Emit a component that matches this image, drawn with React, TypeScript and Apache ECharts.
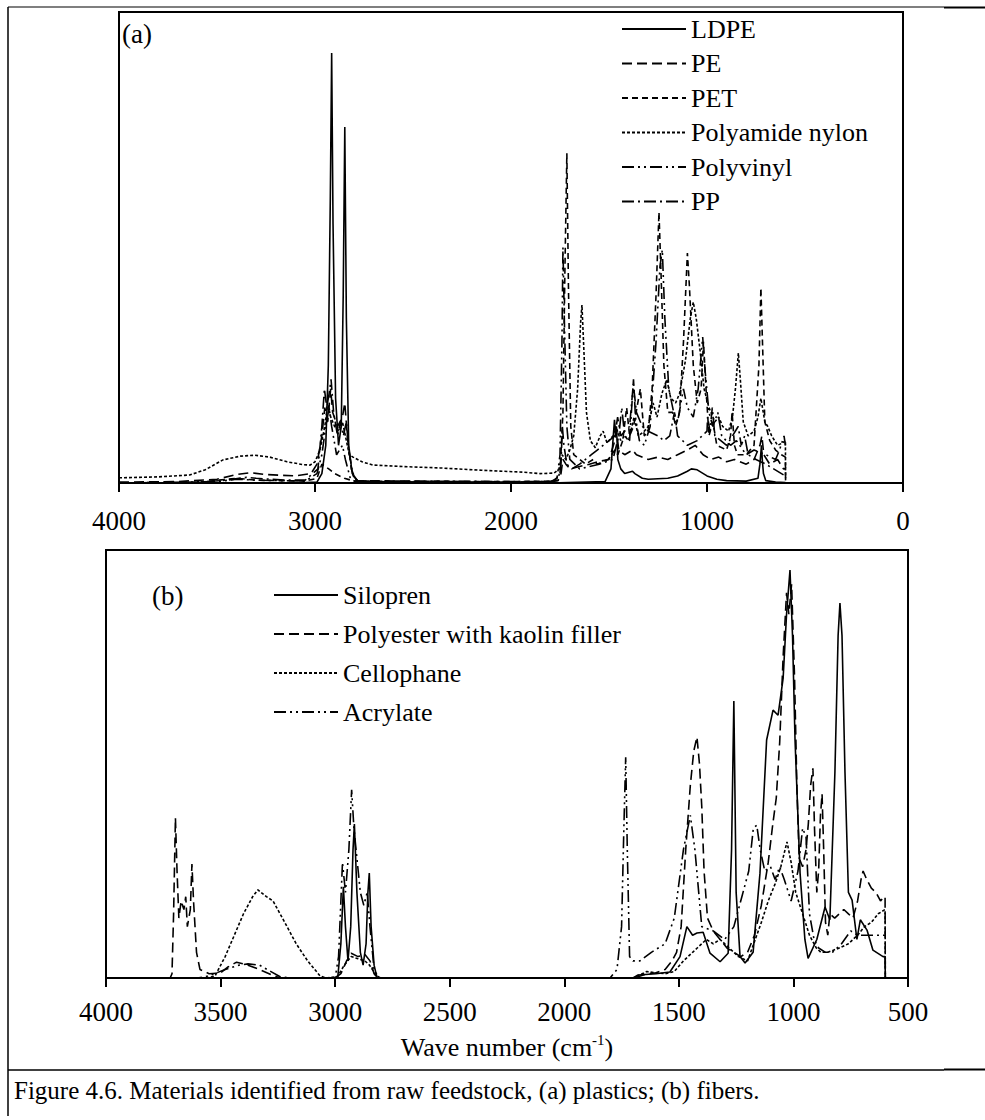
import React, { useEffect, useRef } from "react";
import * as echarts from "echarts";

// ---- (a) plastics: [wave number cm-1, absorbance] ----
const ldpe: number[][] = [
  [4000, 0], [3100, 0], [2990, 0.002], [2965, 0.02], [2945, 0.08], [2932, 0.25], [2922, 0.6], [2915, 0.913],
  [2908, 0.55], [2895, 0.18], [2880, 0.08], [2866, 0.12], [2856, 0.4], [2848, 0.756], [2840, 0.35], [2828, 0.08],
  [2810, 0.02], [2780, 0.003], [1800, 0], [1520, 0.003], [1490, 0.03], [1478, 0.1], [1472, 0.134], [1465, 0.1],
  [1462, 0.12], [1455, 0.05], [1440, 0.03], [1420, 0.02], [1380, 0.025], [1368, 0.02], [1330, 0.01], [1300, 0.008],
  [1200, 0.01], [1150, 0.015], [1100, 0.025], [1080, 0.03], [1050, 0.028], [1000, 0.015], [950, 0.008], [900, 0.005],
  [800, 0.004], [740, 0.01], [730, 0.04], [722, 0.08], [718, 0.05], [712, 0.02], [700, 0.005], [650, 0.002], [600, 0.001],
];
const pe: number[][] = [
  [4000, 0.002], [3700, 0.003], [3500, 0.008], [3400, 0.018], [3330, 0.022], [3250, 0.018], [3100, 0.015], [3020, 0.02],
  [2990, 0.04], [2965, 0.1], [2950, 0.16], [2935, 0.13], [2920, 0.2], [2910, 0.15], [2885, 0.12], [2860, 0.14],
  [2848, 0.17], [2835, 0.1], [2815, 0.03], [2790, 0.005], [2000, 0.002], [1800, 0.003], [1760, 0.005], [1745, 0.02],
  [1735, 0.05], [1720, 0.04], [1700, 0.03], [1650, 0.035], [1600, 0.04], [1560, 0.045], [1500, 0.05], [1470, 0.09],
  [1462, 0.11], [1450, 0.07], [1420, 0.06], [1380, 0.07], [1360, 0.06], [1300, 0.05], [1250, 0.055], [1200, 0.05],
  [1150, 0.06], [1100, 0.07], [1060, 0.08], [1020, 0.06], [980, 0.05], [940, 0.055], [900, 0.045], [860, 0.05],
  [800, 0.04], [760, 0.05], [730, 0.08], [720, 0.1], [710, 0.06], [680, 0.04], [640, 0.05], [610, 0.03], [600, 0.03],
];
const pet: number[][] = [
  [4000, 0], [3600, 0.001], [3450, 0.008], [3400, 0.01], [3300, 0.006], [3050, 0.004], [2990, 0.01], [2965, 0.04],
  [2930, 0.03], [2900, 0.02], [2850, 0.01], [2800, 0.004], [2000, 0.003], [1780, 0.004], [1750, 0.02], [1735, 0.15],
  [1725, 0.45], [1715, 0.7], [1707, 0.42], [1695, 0.12], [1680, 0.06], [1620, 0.04], [1580, 0.05], [1560, 0.04],
  [1505, 0.05], [1470, 0.07], [1455, 0.06], [1430, 0.09], [1410, 0.16], [1395, 0.1], [1375, 0.12], [1340, 0.2],
  [1320, 0.1], [1300, 0.11], [1280, 0.2], [1260, 0.4], [1245, 0.575], [1235, 0.45], [1220, 0.25], [1200, 0.15],
  [1175, 0.15], [1160, 0.12], [1140, 0.15], [1120, 0.3], [1100, 0.488], [1090, 0.42], [1070, 0.25], [1050, 0.17],
  [1030, 0.2], [1018, 0.3], [1005, 0.2], [990, 0.1], [970, 0.13], [950, 0.08], [900, 0.07], [880, 0.1], [872, 0.15],
  [860, 0.08], [845, 0.06], [800, 0.06], [760, 0.08], [735, 0.25], [725, 0.414], [717, 0.3], [705, 0.13], [680, 0.09],
  [650, 0.07], [620, 0.06], [600, 0.055], [599, 0],
];
const nylon: number[][] = [
  [4000, 0.011], [3800, 0.013], [3640, 0.017], [3560, 0.028], [3470, 0.049], [3380, 0.057], [3306, 0.059], [3230, 0.055],
  [3143, 0.045], [3060, 0.039], [3025, 0.038], [3000, 0.045], [2975, 0.07], [2950, 0.12], [2935, 0.17], [2920, 0.14],
  [2900, 0.12], [2875, 0.11], [2860, 0.13], [2845, 0.1], [2825, 0.06], [2806, 0.055], [2760, 0.045], [2704, 0.038],
  [2500, 0.034], [2362, 0.032], [2150, 0.027], [1939, 0.023], [1852, 0.02], [1780, 0.021], [1755, 0.03], [1740, 0.06],
  [1720, 0.05], [1700, 0.07], [1680, 0.1], [1660, 0.2], [1645, 0.34], [1638, 0.378], [1630, 0.3], [1615, 0.15],
  [1595, 0.09], [1570, 0.075], [1545, 0.1], [1530, 0.11], [1510, 0.085], [1480, 0.1], [1465, 0.12], [1440, 0.09],
  [1420, 0.1], [1400, 0.09], [1372, 0.14], [1350, 0.1], [1320, 0.11], [1300, 0.12], [1275, 0.17], [1255, 0.14],
  [1230, 0.19], [1205, 0.22], [1185, 0.18], [1160, 0.17], [1140, 0.19], [1110, 0.26], [1085, 0.35], [1070, 0.384],
  [1055, 0.35], [1035, 0.28], [1015, 0.2], [990, 0.16], [960, 0.13], [940, 0.14], [920, 0.12], [890, 0.11],
  [870, 0.14], [855, 0.2], [840, 0.276], [830, 0.22], [815, 0.13], [790, 0.1], [760, 0.11], [740, 0.14], [725, 0.18],
  [705, 0.13], [690, 0.12], [670, 0.1], [640, 0.08], [615, 0.085], [600, 0.09], [599, 0],
];
const polyvinyl: number[][] = [
  [4000, 0], [3500, 0.003], [3400, 0.008], [3300, 0.006], [3050, 0.004], [2990, 0.02], [2965, 0.06], [2945, 0.12],
  [2928, 0.16], [2915, 0.12], [2890, 0.06], [2860, 0.08], [2845, 0.05], [2820, 0.01], [2790, 0.002], [1800, 0.002],
  [1765, 0.01], [1750, 0.06], [1740, 0.3], [1735, 0.5], [1728, 0.35], [1715, 0.12], [1700, 0.05], [1650, 0.03],
  [1600, 0.035], [1550, 0.04], [1480, 0.05], [1450, 0.1], [1435, 0.16], [1420, 0.1], [1395, 0.09], [1375, 0.22],
  [1365, 0.14], [1345, 0.09], [1320, 0.08], [1290, 0.12], [1260, 0.3], [1240, 0.46], [1228, 0.495], [1215, 0.35],
  [1195, 0.2], [1170, 0.15], [1150, 0.13], [1120, 0.2], [1100, 0.16], [1070, 0.14], [1045, 0.2], [1022, 0.31],
  [1010, 0.24], [990, 0.15], [970, 0.12], [945, 0.15], [925, 0.1], [880, 0.08], [850, 0.09], [800, 0.06], [760, 0.07],
  [700, 0.06], [650, 0.05], [630, 0.07], [607, 0.1], [600, 0.08],
];
const pp: number[][] = [
  [4000, 0], [3600, 0.002], [3450, 0.006], [3350, 0.012], [3300, 0.01], [3150, 0.006], [3050, 0.006], [2985, 0.03],
  [2965, 0.12], [2952, 0.2], [2940, 0.16], [2928, 0.19], [2918, 0.22], [2905, 0.15], [2885, 0.1], [2870, 0.13],
  [2855, 0.1], [2840, 0.13], [2828, 0.07], [2805, 0.015], [2780, 0.004], [1800, 0.003], [1760, 0.006], [1745, 0.04],
  [1738, 0.12], [1730, 0.08], [1715, 0.04], [1690, 0.03], [1650, 0.04], [1620, 0.05], [1590, 0.06], [1560, 0.07],
  [1530, 0.08], [1500, 0.09], [1470, 0.1], [1456, 0.14], [1440, 0.1], [1420, 0.11], [1395, 0.12], [1376, 0.21],
  [1360, 0.15], [1330, 0.12], [1300, 0.11], [1250, 0.1], [1220, 0.09], [1190, 0.1], [1166, 0.15], [1150, 0.1],
  [1100, 0.08], [1050, 0.09], [1000, 0.11], [997, 0.14], [985, 0.11], [973, 0.16], [960, 0.1], [900, 0.08],
  [870, 0.1], [841, 0.12], [825, 0.08], [808, 0.1], [790, 0.06], [750, 0.05], [700, 0.04], [660, 0.03], [620, 0.02],
  [600, 0.015],
];

// ---- (b) fibers ----
const silopren: number[][] = [
  [4000, 0], [3000, 0], [2988, 0.005], [2975, 0.08], [2964, 0.213], [2955, 0.12], [2944, 0.04], [2932, 0.12],
  [2922, 0.3], [2916, 0.36], [2905, 0.2], [2890, 0.06], [2878, 0.03], [2865, 0.08], [2857, 0.2], [2851, 0.245],
  [2843, 0.12], [2830, 0.03], [2817, 0], [1700, 0], [1678, 0.007], [1600, 0.01], [1539, 0.014], [1495, 0.05],
  [1465, 0.12], [1440, 0.1], [1421, 0.105], [1394, 0.107], [1364, 0.058], [1320, 0.038], [1285, 0.058], [1270, 0.3],
  [1260, 0.647], [1250, 0.2], [1233, 0.05], [1211, 0.035], [1176, 0.06], [1146, 0.245], [1117, 0.556], [1089, 0.626],
  [1067, 0.614], [1045, 0.7], [1030, 0.85], [1015, 0.953], [1004, 0.8], [993, 0.556], [971, 0.245], [950, 0.09],
  [936, 0.046], [898, 0.09], [862, 0.166], [841, 0.136], [819, 0.48], [805, 0.8], [797, 0.876], [788, 0.8],
  [775, 0.48], [760, 0.2], [744, 0.182], [723, 0.09], [708, 0.136], [679, 0.112], [653, 0.065], [609, 0.05],
  [600, 0.05], [599, 0],
];
const polyester: number[][] = [
  [4000, 0], [3720, 0], [3712, 0.01], [3705, 0.15], [3697, 0.374], [3690, 0.25], [3682, 0.14], [3672, 0.18],
  [3660, 0.16], [3652, 0.19], [3645, 0.12], [3632, 0.16], [3625, 0.266], [3618, 0.18], [3605, 0.06], [3590, 0.02],
  [3550, 0.01], [3500, 0.012], [3470, 0.025], [3430, 0.037], [3380, 0.03], [3330, 0.02], [3280, 0.008], [3241, 0],
  [3000, 0], [2975, 0.01], [2950, 0.04], [2930, 0.058], [2900, 0.05], [2870, 0.055], [2848, 0.04], [2830, 0.01],
  [2815, 0], [1700, 0], [1678, 0.003], [1640, 0.01], [1600, 0.012], [1560, 0.02], [1530, 0.04], [1510, 0.06],
  [1490, 0.12], [1470, 0.3], [1450, 0.45], [1435, 0.53], [1421, 0.563], [1410, 0.5], [1400, 0.4], [1390, 0.25],
  [1375, 0.14], [1350, 0.11], [1320, 0.09], [1290, 0.07], [1260, 0.06], [1230, 0.05], [1200, 0.06], [1170, 0.1],
  [1140, 0.17], [1110, 0.27], [1090, 0.36], [1075, 0.42], [1060, 0.55], [1045, 0.75], [1030, 0.9], [1020, 0.85],
  [1008, 0.92], [995, 0.7], [985, 0.45], [975, 0.28], [960, 0.26], [945, 0.3], [935, 0.36], [925, 0.45], [915, 0.49],
  [908, 0.35], [898, 0.2], [890, 0.25], [882, 0.38], [875, 0.43], [868, 0.3], [860, 0.13], [850, 0.1], [841, 0.15],
  [820, 0.14], [800, 0.15], [780, 0.16], [760, 0.15], [740, 0.14], [720, 0.18], [705, 0.23], [696, 0.25], [680, 0.23],
  [660, 0.21], [640, 0.2], [620, 0.18], [605, 0.19], [600, 0.19], [599, 0],
];
const cellophane: number[][] = [
  [4000, 0], [3560, 0], [3524, 0.005], [3480, 0.05], [3440, 0.1], [3400, 0.15], [3360, 0.19], [3337, 0.206],
  [3300, 0.19], [3271, 0.18], [3220, 0.13], [3170, 0.08], [3120, 0.04], [3066, 0.005], [3040, 0], [2990, 0.003],
  [2960, 0.03], [2930, 0.05], [2900, 0.045], [2870, 0.04], [2850, 0.03], [2820, 0.005], [2800, 0], [1700, 0],
  [1680, 0.005], [1640, 0.015], [1600, 0.012], [1560, 0.01], [1520, 0.015], [1480, 0.04], [1440, 0.06], [1420, 0.07],
  [1380, 0.09], [1350, 0.08], [1320, 0.09], [1280, 0.07], [1240, 0.05], [1200, 0.04], [1160, 0.1], [1140, 0.13],
  [1110, 0.18], [1080, 0.22], [1055, 0.26], [1028, 0.318], [1010, 0.27], [990, 0.2], [960, 0.15], [930, 0.1],
  [900, 0.07], [880, 0.06], [850, 0.06], [800, 0.07], [760, 0.08], [720, 0.1], [690, 0.12], [660, 0.13], [630, 0.15],
  [600, 0.16], [599, 0],
];
const acrylate: number[][] = [
  [4000, 0], [3600, 0], [3550, 0.005], [3480, 0.02], [3420, 0.03], [3380, 0.033], [3330, 0.03], [3280, 0.015],
  [3240, 0.003], [3200, 0], [3000, 0], [2985, 0.05], [2968, 0.27], [2955, 0.2], [2940, 0.3], [2928, 0.44],
  [2918, 0.35], [2905, 0.28], [2890, 0.2], [2875, 0.17], [2860, 0.2], [2848, 0.12], [2830, 0.02], [2810, 0],
  [1800, 0], [1770, 0.02], [1750, 0.12], [1740, 0.35], [1732, 0.516], [1725, 0.3], [1715, 0.05], [1700, 0.04],
  [1670, 0.04], [1620, 0.06], [1560, 0.08], [1520, 0.14], [1480, 0.3], [1450, 0.38], [1430, 0.3], [1400, 0.12],
  [1350, 0.11], [1300, 0.09], [1260, 0.12], [1225, 0.19], [1195, 0.25], [1175, 0.35], [1160, 0.357], [1145, 0.3],
  [1125, 0.25], [1100, 0.26], [1080, 0.23], [1060, 0.26], [1040, 0.23], [1010, 0.18], [980, 0.25], [960, 0.35],
  [945, 0.33], [930, 0.15], [910, 0.09], [890, 0.07], [860, 0.06], [830, 0.06], [790, 0.08], [750, 0.11],
  [720, 0.1], [680, 0.1], [640, 0.1], [600, 0.1],
];

const namesA = ["LDPE", "PE", "PET", "Polyamide nylon", "Polyvinyl", "PP"];
const dataA = [ldpe, pe, pet, nylon, polyvinyl, pp];
const namesB = ["Silopren", "Polyester with kaolin filler", "Cellophane", "Acrylate"];
const dataB = [silopren, polyester, cellophane, acrylate];

const ticksA = [0, 1000, 2000, 3000, 4000];
const ticksB = [500, 1000, 1500, 2000, 2500, 3000, 3500, 4000];

const SOLID = "solid";
const LONG_DASH = [10, 5];
const MID_DASH = [6, 4];
const FINE_DASH = [3, 2];
const DASH_DOT_DOT = [12, 4, 2, 4, 2, 4];
const DASH_DOT = [12, 4, 2, 4];
const dashA: any[] = [SOLID, LONG_DASH, MID_DASH, FINE_DASH, DASH_DOT_DOT, DASH_DOT];
const dashB: any[] = [SOLID, LONG_DASH, FINE_DASH, DASH_DOT_DOT];

const FONT = "'Liberation Serif', 'Times New Roman', serif";

function lineSeries(name: string, data: number[][], dash: any, idx: number) {
  return {
    name,
    type: "line",
    xAxisIndex: idx,
    yAxisIndex: idx,
    data,
    symbol: "none",
    showSymbol: false,
    smooth: false,
    lineStyle: { color: "#000", width: 1.6, type: dash },
    itemStyle: { color: "#000" },
    emphasis: { disabled: true },
  };
}

function xAxisCfg(gridIndex: number, min: number, max: number, interval: number, margin: number) {
  return {
    gridIndex,
    type: "value",
    inverse: true,
    min,
    max,
    interval,
    splitLine: { show: false },
    axisLine: { show: true, lineStyle: { color: "#000", width: 2 } },
    axisTick: { show: true, inside: false, length: 9, lineStyle: { color: "#000", width: 2 } },
    axisLabel: {
      show: true,
      color: "#000",
      fontFamily: FONT,
      fontSize: 27,
      margin,
      showMinLabel: true,
      showMaxLabel: true,
      formatter: (v: number) => String(v),
    },
  };
}

export default function App() {
  const ref = useRef<HTMLDivElement>(null);

  useEffect(() => {
    document.body.style.margin = "0";
    if (!ref.current) return;
    const chart = echarts.init(ref.current, undefined, { renderer: "svg" });

    const legendBase = {
      orient: "vertical",
      padding: 0,
      itemWidth: 64,
      itemHeight: 14,
      selectedMode: false,
      itemStyle: { opacity: 0 },
      textStyle: { fontFamily: FONT, fontSize: 26, color: "#000", lineHeight: 30 },
    };

    chart.setOption({
      animation: false,
      backgroundColor: "#fff",
      grid: [
        { left: 119, top: 12, width: 784, height: 471, show: true, borderColor: "#000", borderWidth: 2, backgroundColor: "transparent" },
        { left: 106, top: 550, width: 802, height: 428, show: true, borderColor: "#000", borderWidth: 2, backgroundColor: "transparent" },
      ],
      xAxis: [
        xAxisCfg(0, ticksA[0], ticksA[ticksA.length - 1], 1000, 24),
        {
          ...xAxisCfg(1, ticksB[0], ticksB[ticksB.length - 1], 500, 20),
          name: "Wave number (cm{sup|-1})",
          nameLocation: "middle",
          nameGap: 54,
          nameTextStyle: {
            fontFamily: FONT,
            fontSize: 26,
            color: "#000",
            lineHeight: 30,
            rich: { sup: { fontFamily: FONT, fontSize: 15, verticalAlign: "top", lineHeight: 22, color: "#000" } },
          },
        },
      ],
      yAxis: [
        { gridIndex: 0, type: "value", min: 0, max: 1, show: false },
        { gridIndex: 1, type: "value", min: 0, max: 1, show: false },
      ],
      legend: [
        { ...legendBase, left: 621, top: 14, itemGap: 4.5, data: namesA },
        { ...legendBase, left: 273, top: 580, itemGap: 9, data: namesB },
      ],
      series: [
        ...namesA.map((n, i) => lineSeries(n, dataA[i], dashA[i], 0)),
        ...namesB.map((n, i) => lineSeries(n, dataB[i], dashB[i], 1)),
      ],
      graphic: [
        // document table rules around the figure
        { type: "line", shape: { x1: 8, y1: 7, x2: 944, y2: 7 }, style: { stroke: "#000", lineWidth: 1.2 } },
        { type: "line", shape: { x1: 944, y1: 7.5, x2: 985, y2: 7.5 }, style: { stroke: "#000", lineWidth: 2.2 } },
        { type: "line", shape: { x1: 8, y1: 7, x2: 8, y2: 1116 }, style: { stroke: "#000", lineWidth: 1.5 } },
        { type: "line", shape: { x1: 8, y1: 1070, x2: 944, y2: 1070 }, style: { stroke: "#000", lineWidth: 1.5 } },
        { type: "line", shape: { x1: 944, y1: 1069.5, x2: 985, y2: 1069.5 }, style: { stroke: "#000", lineWidth: 2.2 } },
        { type: "text", left: 122, top: 20, style: { text: "(a)", fontFamily: FONT, fontSize: 27, fill: "#000" } },
        { type: "text", left: 152, top: 582, style: { text: "(b)", fontFamily: FONT, fontSize: 27, fill: "#000" } },
        {
          type: "text",
          left: 14,
          top: 1078,
          style: {
            text: "Figure 4.6. Materials identified from raw feedstock, (a) plastics; (b) fibers.",
            fontFamily: FONT,
            fontSize: 25,
            fill: "#000",
          },
        },
      ],
    });

    return () => chart.dispose();
  }, []);

  return <div ref={ref} style={{ width: 985, height: 1120 }} />;
}
